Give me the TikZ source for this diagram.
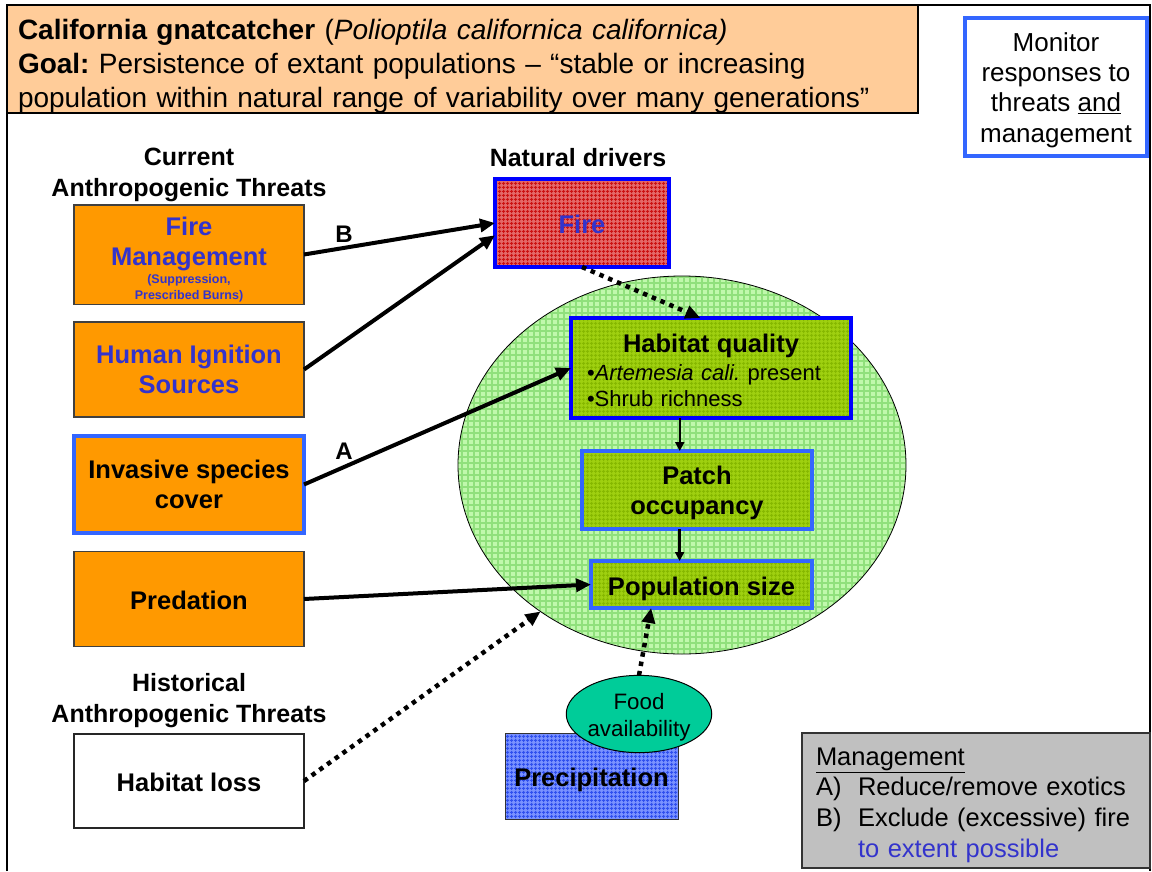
\documentclass[tikz,border=0pt]{standalone}
\usepackage{fontspec}
\setmainfont{Liberation Sans}
\usetikzlibrary{arrows.meta,patterns.meta,shapes.geometric}
\frenchspacing

\definecolor{peach}{HTML}{FFCC99}
\definecolor{orangefill}{HTML}{FF9900}
\definecolor{bluetext}{HTML}{3333CC}
\definecolor{midblue}{HTML}{3366FF}
\definecolor{pureblue}{HTML}{0000FF}
\definecolor{foodgreen}{HTML}{00CC99}
\definecolor{mgmtgray}{HTML}{C0C0C0}
\definecolor{ecofill}{HTML}{C0F8AC}
\definecolor{ecoline}{HTML}{90E07C}
\definecolor{statefill}{HTML}{9FD010}
\definecolor{stateline}{HTML}{86B800}
\definecolor{firefill}{HTML}{E46868}
\definecolor{fireline}{HTML}{CC1212}
\definecolor{precipfill}{HTML}{7A92FF}
\definecolor{precipline}{HTML}{3050EE}

% invisible strut that lowers the first line of a node
\newcommand{\lowerby}[1]{\rule{0pt}{#1}}

\begin{document}
\begin{tikzpicture}[x=1pt,y=-1pt,
  every node/.style={inner sep=0pt, outer sep=0pt},
  headtext/.style={align=center, font=\fontsize{25}{31}\selectfont\bfseries},
  threatbox/.style={draw=black!75, line width=1.3pt, fill=orangefill,
    minimum width=230pt, minimum height=95pt, align=center,
    font=\fontsize{25.5}{30}\selectfont\bfseries},
  oneline/.style={text height=20pt, text depth=0pt},
  textured/.style n args={3}{preaction={fill=#1},
    preaction={pattern={Hatch[angle=0,distance=#3,line width=1.1pt]}, pattern color=#2}},
  statebox/.style={draw=midblue, line width=4.5pt, textured={statefill}{stateline}{4pt},
    align=center, font=\fontsize{25.5}{30}\selectfont\bfseries},
  threatarrow/.style={line width=4pt, -{Triangle[length=15pt,width=13pt]}},
  dottedarrow/.style={line width=4.5pt, dash pattern=on 4.5pt off 5pt,
    -{Triangle[length=15pt,width=13pt]}},
  steparrow/.style={line width=2.4pt, -{Triangle[length=9pt,width=9pt]}},
  labeltext/.style={font=\fontsize{24}{28}\selectfont\bfseries}
]
\useasboundingbox (0,0) rectangle (1152,871);

% title banner and outer frame
\node[draw=black, line width=2pt, fill=peach, minimum width=911pt, minimum height=108pt,
  text width=889pt, inner xsep=11pt, align=left, font=\fontsize{28}{34}\selectfont]
  (title) at (462.5,59)
  {\lowerby{34pt}\textbf{California gnatcatcher} (\textit{Polioptila californica californica)}\\
   \textbf{Goal:} Persistence of extant populations – “stable or increasing\\
   population within natural range of variability over many generations”};
\draw[line width=2.5pt] (7,871) -- (7,5) -- (1150,5) -- (1150,871);

% monitoring note
\node[draw=midblue, line width=4pt, fill=white, minimum width=182pt, minimum height=138pt,
  align=center, font=\fontsize{26}{30.3}\selectfont] (monitor) at (1056,87)
  {\lowerby{25pt}Monitor\\responses to\\threats \underline{and}\\management};

% column headings
\node[headtext] (curhead) at (189,174.5) {Current\\Anthropogenic Threats};
\node[headtext] (nathead) at (578,158) {Natural drivers};
\node[headtext] (histhead) at (189,700.5) {Historical\\Anthropogenic Threats};

% ecological system
\node[ellipse, draw=black, line width=0.8pt, minimum width=448pt, minimum height=378pt,
  textured={ecofill}{ecoline}{6pt}] (eco) at (682,465) {};

% threats
\node[threatbox, text=bluetext] (firemgmt) at (189,254.5)
  {\lowerby{31pt}Fire\\Management\\[-12.5pt]{\fontsize{12.5}{16}\selectfont
   \begin{tabular}[t]{@{}c@{}}(Suppression,\\Prescribed Burns)\end{tabular}}};
\node[threatbox, text=bluetext] (ignition) at (189,369.5) {Human Ignition\\Sources};
\node[threatbox, draw=midblue, line width=4pt, minimum height=97pt] (invasive)
  at (189,484.5) {Invasive species\\cover};
\node[threatbox, oneline] (predation) at (189,599) {Predation};
\node[threatbox, oneline, fill=white, draw=black!85, minimum height=94pt] (habloss)
  at (189,781) {Habitat loss};

% natural driver
\node[draw=pureblue, line width=4.5pt, textured={firefill}{fireline}{4pt},
  minimum width=174pt, minimum height=88pt, text=bluetext, oneline,
  font=\fontsize{25.5}{30}\selectfont\bfseries] (fire) at (582,223) {Fire};

% population states
\node[statebox, draw=pureblue, minimum width=280pt, minimum height=100pt,
  text width=248pt, inner xsep=16pt, align=left, font=\fontsize{22}{26}\selectfont]
  (habq) at (711,368)
  {\lowerby{23pt}\makebox[248pt][c]{\fontsize{25.5}{28}\selectfont\bfseries Habitat quality}\\[2pt]
   •\textit{Artemesia cali.} present\\
   •Shrub richness};
\node[statebox, minimum width=230pt, minimum height=78pt] (patch) at (697,490)
  {\lowerby{25pt}Patch\\occupancy};
\node[statebox, oneline, text height=21pt, minimum width=221pt, minimum height=47pt]
  (popsize) at (701.5,584.5) {Population size};

% climate and food
\node[draw=black!80, line width=1pt, textured={precipfill}{precipline}{4pt},
  minimum width=173pt, minimum height=86pt, oneline,
  font=\fontsize{25.5}{30}\selectfont\bfseries] (precip) at (591.5,776) {Precipitation};
\node[ellipse, draw=black, line width=1pt, fill=foodgreen, minimum width=136pt,
  minimum height=76pt, align=center, font=\fontsize{22.3}{27}\selectfont]
  (food) at (639,714) {\lowerby{23pt}Food\\availability};

% management actions
\node[draw=black!80, line width=1.3pt, fill=mgmtgray, minimum width=348pt,
  minimum height=135pt, text width=320pt, inner xsep=14pt, align=left,
  font=\fontsize{25.5}{30.7}\selectfont] (mgmt) at (976,800.5)
  {\lowerby{26.5pt}\underline{Management}\\
   \makebox[42pt][l]{A)}Reduce/remove exotics\\
   \makebox[42pt][l]{B)}Exclude (excessive) fire\\
   \hspace*{42pt}\textcolor{bluetext}{to extent possible}};

% links
\draw[threatarrow] (firemgmt.east) -- (fire.west);
\draw[threatarrow] (ignition.east) -- (fire.188);
\draw[threatarrow] (invasive.east) -- (habq.west);
\draw[threatarrow] (predation.east) -- (popsize.west);
\draw[dottedarrow] (habloss.east) -- (eco.226);
\draw[dottedarrow] (fire.south) -- (habq.102);
\draw[dottedarrow] (food.north) -- (popsize.205);
\draw[steparrow] (habq.238) -- (habq.238 |- patch.north);
\draw[steparrow] (patch.246) -- (patch.246 |- popsize.north);

\node[labeltext] (labB) at (344,234) {B};
\node[labeltext] (labA) at (344,451) {A};
\end{tikzpicture}
\end{document}
